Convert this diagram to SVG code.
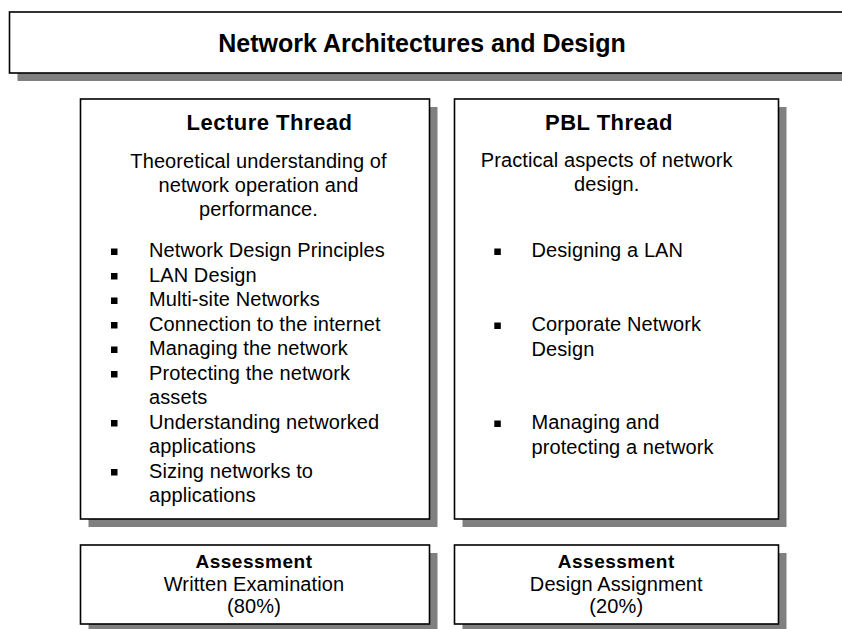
<svg xmlns="http://www.w3.org/2000/svg" width="842" height="629" viewBox="0 0 842 629">
<style>
.box{fill:#fff;stroke:#000;stroke-width:1.6}
.shadow{fill:#808080}
text{font-family:"Liberation Sans",Arial,sans-serif;fill:#000}
.title{font-size:25px;font-weight:bold}
.head{font-size:22px;font-weight:bold;letter-spacing:0.5px}
.body{font-size:20px;letter-spacing:0.1px}
.ahead{font-size:19px;font-weight:bold;letter-spacing:0.5px}
.mid{text-anchor:middle}
.bul{fill:#000}
</style>
<rect width="842" height="629" fill="#fff"/>

<g id="title">
  <rect class="shadow" x="17.5" y="20" width="840" height="61"/>
  <rect class="box" x="9.5" y="12" width="850" height="61"/>
  <text class="title mid" x="422" y="52">Network Architectures and Design</text>
</g>

<g id="lecture-thread">
  <rect class="shadow" x="88.5" y="107" width="349" height="420"/>
  <rect class="box" x="80.5" y="99" width="349" height="420"/>
  <text class="head mid" x="269.5" y="129.5">Lecture Thread</text>
  <text class="body mid" x="258.5" y="167.5">Theoretical understanding of</text>
  <text class="body mid" x="258.5" y="191.7">network operation and</text>
  <text class="body mid" x="258.5" y="216">performance.</text>
  <rect class="bul" x="111" y="248.5" width="6.5" height="6.5"/>
  <text class="body" x="149" y="257">Network Design Principles</text>
  <rect class="bul" x="111" y="273" width="6.5" height="6.5"/>
  <text class="body" x="149" y="281.5">LAN Design</text>
  <rect class="bul" x="111" y="297.5" width="6.5" height="6.5"/>
  <text class="body" x="149" y="306">Multi-site Networks</text>
  <rect class="bul" x="111" y="322" width="6.5" height="6.5"/>
  <text class="body" x="149" y="330.5">Connection to the internet</text>
  <rect class="bul" x="111" y="346.5" width="6.5" height="6.5"/>
  <text class="body" x="149" y="355">Managing the network</text>
  <rect class="bul" x="111" y="371" width="6.5" height="6.5"/>
  <text class="body" x="149" y="379.5">Protecting the network</text>
  <text class="body" x="149" y="404">assets</text>
  <rect class="bul" x="111" y="420" width="6.5" height="6.5"/>
  <text class="body" x="149" y="428.5">Understanding networked</text>
  <text class="body" x="149" y="453">applications</text>
  <rect class="bul" x="111" y="469" width="6.5" height="6.5"/>
  <text class="body" x="149" y="477.5">Sizing networks to</text>
  <text class="body" x="149" y="502">applications</text>
</g>

<g id="pbl-thread">
  <rect class="shadow" x="462.5" y="107" width="324" height="420"/>
  <rect class="box" x="454.5" y="99" width="324" height="420"/>
  <text class="head mid" x="609" y="129.5">PBL Thread</text>
  <text class="body mid" x="606.7" y="167">Practical aspects of network</text>
  <text class="body mid" x="606.7" y="191">design.</text>
  <rect class="bul" x="494.3" y="248.5" width="6.5" height="6.5"/>
  <text class="body" x="531.5" y="257">Designing a LAN</text>
  <rect class="bul" x="494.3" y="322.5" width="6.5" height="6.5"/>
  <text class="body" x="531.5" y="331">Corporate Network</text>
  <text class="body" x="531.5" y="355.5">Design</text>
  <rect class="bul" x="494.3" y="420.5" width="6.5" height="6.5"/>
  <text class="body" x="531.5" y="429">Managing and</text>
  <text class="body" x="531.5" y="453.5">protecting a network</text>
</g>

<g id="lecture-assessment">
  <rect class="shadow" x="88.5" y="553" width="349" height="79"/>
  <rect class="box" x="80.5" y="545" width="349" height="79"/>
  <text class="ahead mid" x="254" y="568">Assessment</text>
  <text class="body mid" x="254" y="590.5">Written Examination</text>
  <text class="body mid" x="254" y="613">(80%)</text>
</g>

<g id="pbl-assessment">
  <rect class="shadow" x="462.5" y="553" width="324" height="79"/>
  <rect class="box" x="454.5" y="545" width="324" height="79"/>
  <text class="ahead mid" x="616.3" y="568">Assessment</text>
  <text class="body mid" x="616.3" y="590.5">Design Assignment</text>
  <text class="body mid" x="616.3" y="613">(20%)</text>
</g>

<g id="connectors"/>
</svg>
